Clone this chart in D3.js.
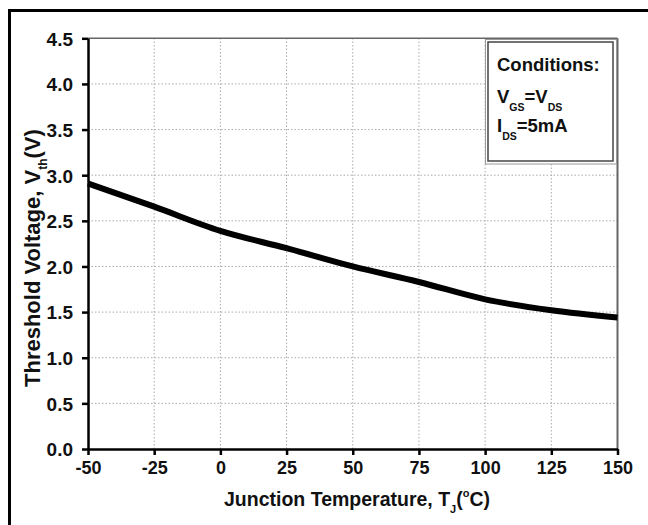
<!DOCTYPE html>
<html><head><meta charset="utf-8">
<script src="https://cdn.jsdelivr.net/npm/d3@7"></script>
<style>html,body{margin:0;padding:0;background:#fff;}svg{display:block;}</style>
</head><body>
<script>
const temps = [-50, -25, 0, 25, 50, 75, 100, 125, 150];
const vth = [2.91, 2.655, 2.39, 2.20, 2.00, 1.83, 1.64, 1.52, 1.44];
const xTicks = [-50, -25, 0, 25, 50, 75, 100, 125, 150];
const yTicks = [0, 0.5, 1.0, 1.5, 2.0, 2.5, 3.0, 3.5, 4.0, 4.5];

const W = 648, H = 525;
const FONT = "Arial, 'Liberation Sans', sans-serif";
const svg = d3.select("body").append("svg").attr("width", W).attr("height", H);

// outer frame
svg.append("rect").attr("x", 9.5).attr("y", 10.5).attr("width", 700).attr("height", 700)
  .attr("fill", "none").attr("stroke", "#000").attr("stroke-width", 3);

const x = d3.scaleLinear().domain([-50, 150]).range([88, 617.5]);
const y = d3.scaleLinear().domain([0, 4.5]).range([449, 38.3]);

// grid
const g = svg.append("g");
g.selectAll(".vg").data(xTicks.slice(1, -1)).join("line")
  .attr("x1", d => x(d)).attr("x2", d => x(d)).attr("y1", y(0)).attr("y2", y(4.5))
  .attr("stroke", "#aaa").attr("stroke-width", 1).attr("stroke-dasharray", "1.5,2");
g.selectAll(".hg").data(yTicks.slice(1, -1)).join("line")
  .attr("y1", d => y(d)).attr("y2", d => y(d)).attr("x1", x(-50)).attr("x2", x(150))
  .attr("stroke", "#aaa").attr("stroke-width", 1).attr("stroke-dasharray", "1.5,2");

// plot border top/right
svg.append("line").attr("x1", x(-50)).attr("x2", x(150)).attr("y1", y(4.5)).attr("y2", y(4.5))
  .attr("stroke", "#666").attr("stroke-width", 1.5);
svg.append("line").attr("x1", x(150)).attr("x2", x(150)).attr("y1", y(4.5)).attr("y2", y(0))
  .attr("stroke", "#666").attr("stroke-width", 2);

// axes
const fmtX = d => String(d);             // plain hyphen-minus like the reference
const fmtY = d => d.toFixed(1);
const xAxis = d3.axisBottom(x).tickValues(xTicks).tickSize(6).tickSizeOuter(0).tickPadding(6)
  .tickFormat(fmtX);
const gx = svg.append("g").attr("transform", `translate(0,${y(0)})`).call(xAxis);
gx.select(".domain").attr("stroke", "#000").attr("stroke-width", 2.5);
gx.selectAll(".tick line").attr("stroke", "#000").attr("stroke-width", 2.5);
gx.selectAll(".tick text").attr("font-family", FONT).attr("font-weight", "bold")
  .attr("font-size", 18).attr("fill", "#111").attr("dy", "0.72em");

const yAxis = d3.axisLeft(y).tickValues(yTicks).tickSize(6).tickSizeOuter(0).tickPadding(9)
  .tickFormat(fmtY);
const gy = svg.append("g").attr("transform", `translate(${x(-50)},0)`).call(yAxis);
gy.select(".domain").attr("stroke", "#000").attr("stroke-width", 2.5);
gy.selectAll(".tick line").attr("stroke", "#000").attr("stroke-width", 2.5);
gy.selectAll(".tick text").attr("font-family", FONT).attr("font-weight", "bold")
  .attr("font-size", 19).attr("fill", "#111").attr("dy", "0.36em");

// curve
const line = d3.line().x((d, i) => x(temps[i])).y(d => y(d)).curve(d3.curveMonotoneX);
svg.append("path").datum(vth).attr("d", line).attr("fill", "none")
  .attr("stroke", "#000").attr("stroke-width", 6).attr("stroke-linecap", "butt");

// x title
const xt = svg.append("text").attr("x", 224).attr("y", 506)
  .attr("font-family", FONT).attr("font-weight", "bold").attr("font-size", 19.5).attr("fill", "#111");
xt.append("tspan").text("Junction Temperature, T");
xt.append("tspan").attr("font-size", 11).attr("dy", 7).text("J");
xt.append("tspan").attr("dy", -7).text("(");
xt.append("tspan").attr("font-size", 11).attr("dy", -9).text("o");
xt.append("tspan").attr("dy", 9).text("C)");

// y title
const yt = svg.append("text").attr("transform", "translate(40,387) rotate(-90)")
  .attr("font-family", FONT).attr("font-weight", "bold").attr("font-size", 22).attr("fill", "#111");
yt.append("tspan").text("Threshold Voltage, V");
yt.append("tspan").attr("font-size", 12).attr("dy", 7).text("th");
yt.append("tspan").attr("dy", -7).text("(V)");

// legend box
svg.append("rect").attr("x", 485.5).attr("y", 39.5).attr("width", 131).attr("height", 124.5)
  .attr("fill", "#fff").attr("stroke", "#999").attr("stroke-width", 1);
svg.append("rect").attr("x", 488).attr("y", 42).attr("width", 125).attr("height", 119)
  .attr("fill", "none").attr("stroke", "#444").attr("stroke-width", 1.5);

const lg = svg.append("g").attr("font-family", FONT).attr("font-weight", "bold").attr("fill", "#111");
lg.append("text").attr("x", 497).attr("y", 71).attr("font-size", 18.5).text("Conditions:");
const l2 = lg.append("text").attr("x", 497).attr("y", 103).attr("font-size", 18.5);
l2.append("tspan").text("V");
l2.append("tspan").attr("font-size", 10.5).attr("dy", 8).text("GS");
l2.append("tspan").attr("dy", -8).text("=V");
l2.append("tspan").attr("font-size", 10.5).attr("dy", 8).text("DS");
const l3 = lg.append("text").attr("x", 497).attr("y", 132).attr("font-size", 18.5);
l3.append("tspan").text("I");
l3.append("tspan").attr("font-size", 10.5).attr("dy", 8).text("DS");
l3.append("tspan").attr("dy", -8).text("=5mA");
</script>
</body></html>
